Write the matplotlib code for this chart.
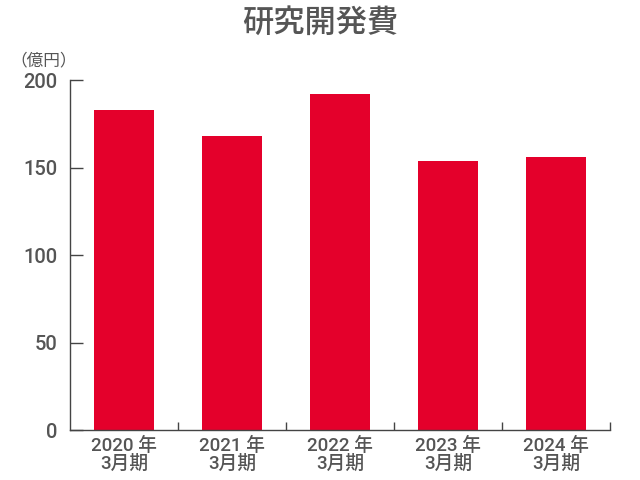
import numpy as np
import matplotlib
matplotlib.use("Agg")
import matplotlib.pyplot as plt

# data
years = ["2020 年", "2021 年", "2022 年", "2023 年", "2024 年"]
period = "3月期"
rd_cost = [183, 168, 192, 154, 156]  # 億円
y_ticks = [0, 50, 100, 150, 200]

BAR_COLOR = "#e4002b"
TEXT_COLOR = "#555555"
AXIS_COLOR = "#444444"
FONTS = ["Roboto", "Noto Sans CJK JP", "DejaVu Sans"]

plt.rcParams["font.family"] = FONTS

fig = plt.figure(figsize=(6.4, 4.8), dpi=100)
ax = fig.add_axes([70 / 640, 50 / 480, 540 / 640, 349.7 / 480])

x = np.arange(len(rd_cost))
ax.bar(x, rd_cost, width=0.556, color=BAR_COLOR)

ax.set_xlim(-0.5, len(rd_cost) - 0.5)
ax.set_ylim(0, 200)

ax.spines["top"].set_visible(False)
ax.spines["right"].set_visible(False)
for s in ("left", "bottom"):
    ax.spines[s].set_color(AXIS_COLOR)
    ax.spines[s].set_linewidth(1.0)

ax.set_yticks(y_ticks)
ax.set_yticklabels([str(v) for v in y_ticks], fontsize=14.5, color=TEXT_COLOR,
                   fontweight="medium")
ax.tick_params(axis="y", direction="in", length=9, width=1.0, color=AXIS_COLOR, pad=9)

ax.set_xticks(x)
ax.set_xticklabels([f"{y}\n{period}" for y in years], fontsize=13.5,
                   color=TEXT_COLOR, linespacing=0.95, fontweight="medium")
ax.tick_params(axis="x", length=0, pad=5)
ax.set_xticks(x + 0.5, minor=True)
ax.tick_params(axis="x", which="minor", direction="in", length=6, width=1.0,
               color=AXIS_COLOR)

fig.text(0.5, 1 - 23 / 480, "研究開発費", ha="center", va="center",
         fontsize=22.5, color=TEXT_COLOR, fontweight="medium",
         family=["Noto Sans CJK JP", "DejaVu Sans"])
fig.text(44 / 640, 1 - 61 / 480, "（億円）", ha="center", va="center",
         fontsize=12, color=TEXT_COLOR, family=["Noto Sans CJK JP", "DejaVu Sans"])

fig.savefig("out.png", dpi=100)
plt.close(fig)
